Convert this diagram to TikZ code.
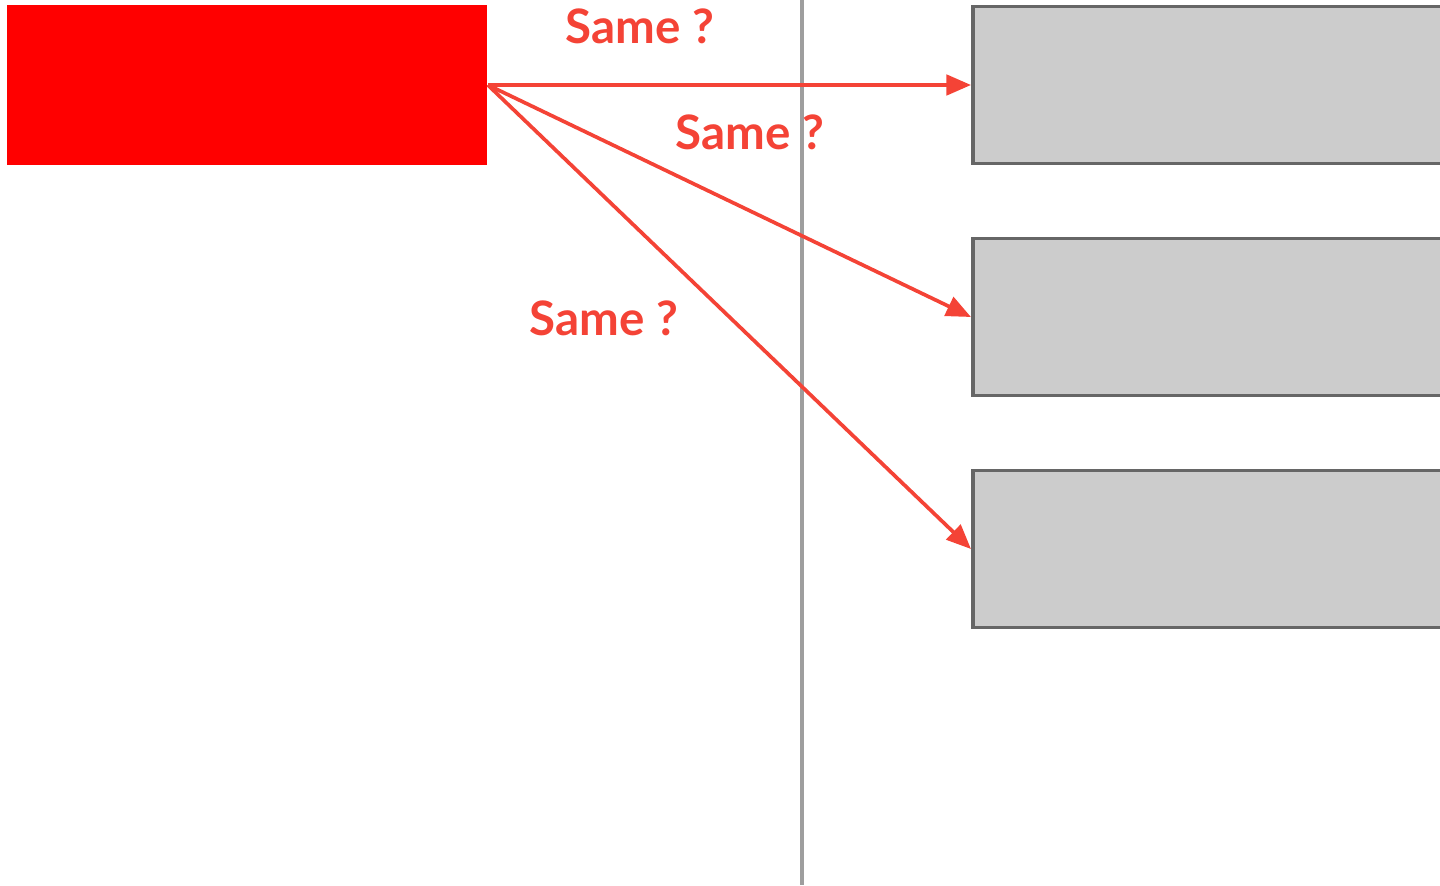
\documentclass[tikz,border=0pt]{standalone}
\usepackage{fontspec}
\setmainfont{Lato}
\usepackage{tikz}
\usetikzlibrary{arrows.meta, positioning}
\definecolor{rojoFuente}{RGB}{255, 0, 0}
\definecolor{rojoFlecha}{RGB}{244, 67, 54}
\definecolor{grisCaja}{RGB}{204, 204, 204}
\definecolor{grisBorde}{RGB}{102, 102, 102}
\definecolor{grisLinea}{RGB}{158, 158, 158}

\begin{document}
\begin{tikzpicture}[x=0.01cm, y=-0.01cm,
    origen/.style={fill=rojoFuente, minimum width=4.8cm, minimum height=1.6cm, inner sep=0pt},
    destino/.style={draw=grisBorde, fill=grisCaja, line width=1.1pt, minimum width=5.6cm, minimum height=1.57cm, inner sep=0pt},
    flecha/.style={draw=rojoFlecha, line width=1.05pt, -{Triangle[length=7pt, width=5.8pt]}},
    pregunta/.style={text=rojoFlecha, font=\fontsize{13.5}{16}\selectfont\bfseries}]
    \useasboundingbox (0,0) rectangle (1440,885);

    % Separador vertical
    \draw[grisLinea, line width=1pt] (802,0) -- (802,885);

    % Caja de origen y cajas de destino
    \node[origen] (src) at (247,85) {};
    \node[destino, anchor=west] (tgtA) at (971,85) {};
    \node[destino, anchor=west] (tgtB) at (971,317) {};
    \node[destino, anchor=west] (tgtC) at (971,549) {};

    % Flechas
    \draw[flecha] (src.east) -- (tgtA.west);
    \draw[flecha] (src.east) -- (tgtB.west);
    \draw[flecha] (src.east) -- (tgtC.west);

    \node[pregunta] (qA) at (640,26) {Same ?};
    \node[pregunta] (qB) at (750,132) {Same ?};
    \node[pregunta] (qC) at (604,318) {Same ?};
\end{tikzpicture}
\end{document}
